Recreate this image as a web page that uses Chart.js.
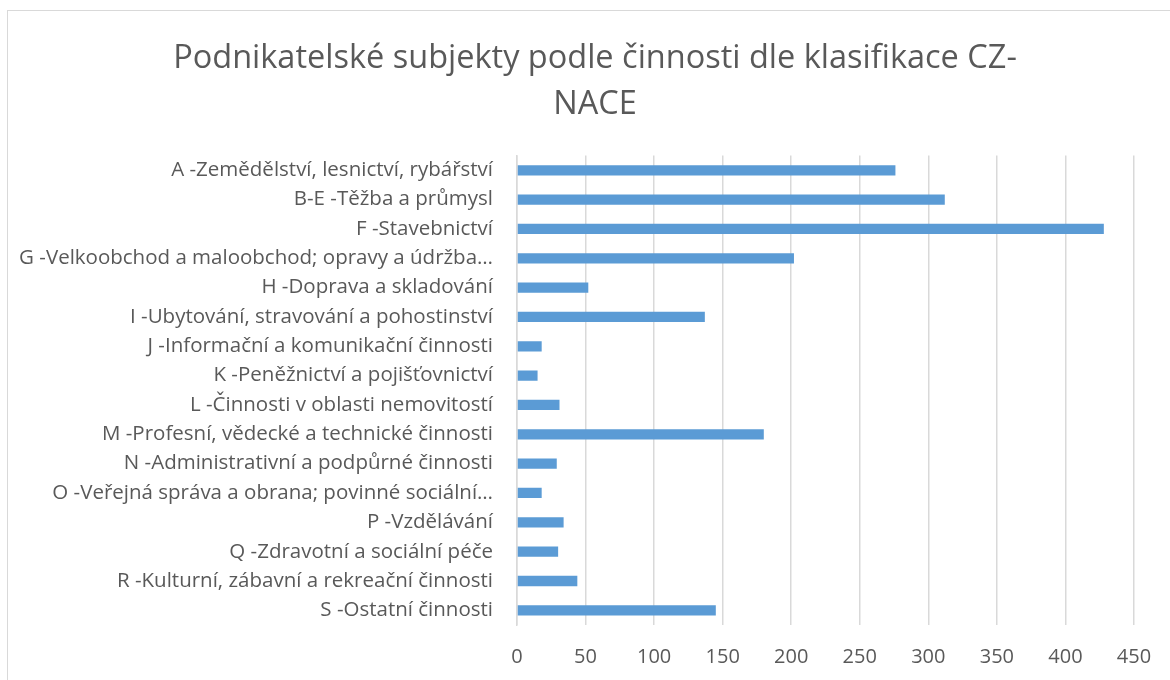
<!DOCTYPE html>
<html>
<head>
<meta charset="utf-8">
<script src="https://cdn.jsdelivr.net/npm/chart.js@4"></script>
<style>
  html, body { margin: 0; padding: 0; background: #ffffff; width: 1170px; height: 680px; overflow: hidden; }
  #box { position: absolute; left: 7px; top: 10px; width: 1176px; height: 680px; border: 1px solid #d9d9d9; box-sizing: border-box; background: #fff; }
  #wrap { position: absolute; left: 0px; top: 0px; width: 1174px; height: 678px; }
</style>
</head>
<body>
<div id="box"><div id="wrap"><canvas id="c"></canvas></div></div>
<script>
const titleLines = ['Podnikatelské subjekty podle činnosti dle klasifikace CZ-', 'NACE'];
const categories = [
  'A -Zemědělství, lesnictví, rybářství',
  'B-E -Těžba a průmysl',
  'F -Stavebnictví',
  'G -Velkoobchod a maloobchod; opravy a údržba…',
  'H -Doprava a skladování',
  'I -Ubytování, stravování a pohostinství',
  'J -Informační a komunikační činnosti',
  'K -Peněžnictví a pojišťovnictví',
  'L -Činnosti v oblasti nemovitostí',
  'M -Profesní, vědecké a technické činnosti',
  'N -Administrativní a podpůrné činnosti',
  'O -Veřejná správa a obrana; povinné sociální…',
  'P -Vzdělávání',
  'Q -Zdravotní a sociální péče',
  'R -Kulturní, zábavní a rekreační činnosti',
  'S -Ostatní činnosti'
];
const values = [276, 312, 428, 202, 52, 137, 18, 15, 31, 180, 29, 18, 34, 30, 44, 145];
const xMin = 0, xMax = 450, xStep = 50;

const FONT = '"Open Sans", "Noto Sans", sans-serif';

const centerTitle = {
  id: 'centerTitle',
  afterLayout(chart) {
    const t = chart.titleBlock;
    if (t) { t.left = 0; t.right = chart.width; t.width = chart.width; }
  }
};

new Chart(document.getElementById('c'), {
  type: 'bar',
  data: {
    labels: categories,
    datasets: [{
      data: values,
      backgroundColor: '#5b9bd5',
      borderWidth: 0,
      barPercentage: 0.35,
      categoryPercentage: 1.0
    }]
  },
  plugins: [centerTitle],
  options: {
    indexAxis: 'y',
    responsive: true,
    maintainAspectRatio: false,
    animation: false,
    layout: { padding: { top: 0, right: 48, bottom: 0, left: 0 } },
    plugins: {
      legend: { display: false },
      tooltip: { enabled: false },
      title: {
        display: true,
        text: titleLines,
        color: '#595959',
        font: { family: FONT, size: 32.5, weight: 'normal', lineHeight: 1.44 },
        padding: { top: 24, bottom: 27 }
      }
    },
    scales: {
      x: {
        min: xMin, max: xMax,
        ticks: { stepSize: xStep, color: '#595959', font: { family: FONT, size: 20 }, padding: 20 },
        grid: { color: '#d9d9d9', lineWidth: 1.5, drawTicks: false },
        border: { display: false }
      },
      y: {
        afterFit: (axis) => { axis.width = 509; },
        ticks: { color: '#595959', font: { family: FONT, size: 20.5 }, padding: 24, autoSkip: false },
        grid: { display: false, drawTicks: false },
        border: { display: true, color: '#d9d9d9', width: 1.5 }
      }
    }
  }
});
</script>
</body>
</html>
